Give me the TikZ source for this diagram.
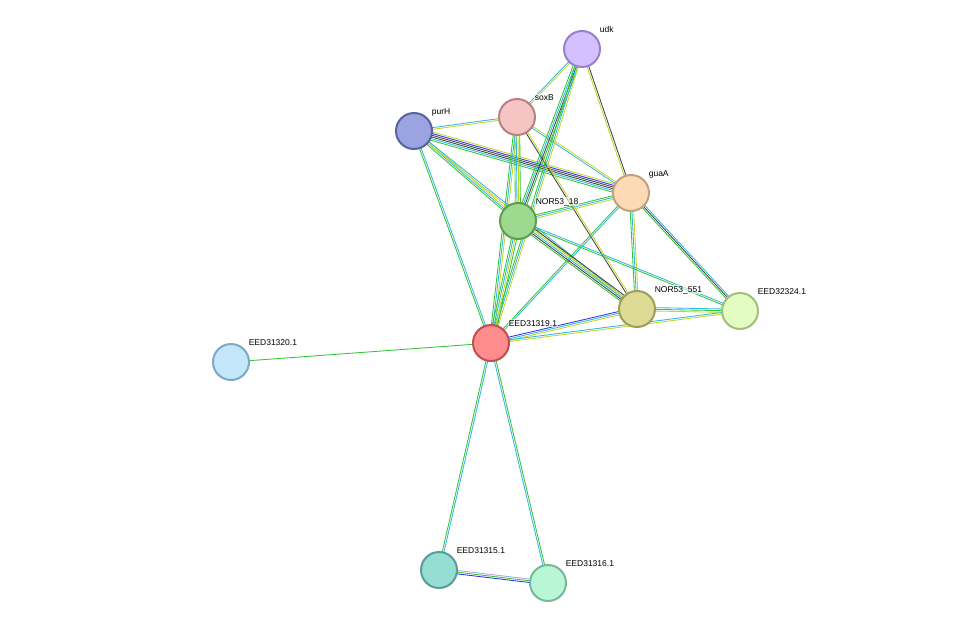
\documentclass[tikz,border=0pt]{standalone}
\usepackage{fontspec}
\setmainfont{Liberation Sans}
\usetikzlibrary{calc}
\definecolor{cG}{HTML}{33C633}
\definecolor{cC}{HTML}{2EB8E2}
\definecolor{cY}{HTML}{C2D62A}
\definecolor{cK}{HTML}{444444}
\definecolor{cB}{HTML}{3030F5}
\definecolor{cL}{HTML}{B6A0E6}
\newcommand\medge[4]{%
  \foreach \cc [count=\ii] in {#4}{%
    \pgfmathsetmacro\oo{(\ii-(#3+1)/2)*1.7}%
    \draw[edge,\cc] ($(#1.center)!\oo pt!90:(#2.center)$) -- ($(#2.center)!\oo pt!-90:(#1.center)$);
  }}
\begin{document}
\begin{tikzpicture}[x=1pt,y=-1pt,
  edge/.style={line width=0.85pt},
  prot/.style={circle,minimum size=36pt,inner sep=0pt,line width=2pt},
  lab/.style={font=\fontsize{8.5}{9}\selectfont,anchor=base west,fill=white,fill opacity=0.6,text opacity=1,inner sep=0.6pt}]
\useasboundingbox (0,0) rectangle (975,629);
\coordinate (udk) at (582,49);
\coordinate (soxB) at (517,117);
\coordinate (purH) at (414,131);
\coordinate (guaA) at (631,193);
\coordinate (n18) at (518,221);
\coordinate (n551) at (637,309);
\coordinate (e24) at (740,311);
\coordinate (e19) at (491,343);
\coordinate (e20) at (231,362);
\coordinate (e15) at (439,570);
\coordinate (e16) at (548,583);
\medge{purH}{soxB}{2}{cY,cC}
\medge{purH}{guaA}{6}{cG,cC,cK,cK,cB,cY}
\medge{purH}{n18}{3}{cG,cC,cY}
\medge{purH}{e19}{2}{cG,cC}
\medge{purH}{n551}{2}{cY,cC}
\medge{soxB}{guaA}{2}{cC,cY}
\medge{soxB}{n18}{4}{cG,cC,cY,cG}
\medge{soxB}{n551}{2}{cK,cY}
\medge{soxB}{e19}{3}{cG,cC,cY}
\medge{soxB}{udk}{2}{cY,cC}
\medge{udk}{n18}{4}{cG,cC,cK,cG}
\medge{udk}{e19}{3}{cG,cC,cY}
\medge{udk}{guaA}{2}{cY,cK}
\medge{guaA}{n18}{3}{cG,cC,cY}
\medge{guaA}{n551}{3}{cG,cC,cY}
\medge{guaA}{e24}{3}{cG,cK,cC}
\medge{guaA}{e19}{2}{cG,cC}
\medge{n18}{n551}{5}{cG,cK,cC,cY,cK}
\medge{n18}{e24}{2}{cG,cC}
\medge{n18}{e19}{4}{cG,cC,cY,cG}
\medge{n551}{e24}{3}{cY,cG,cC}
\medge{n551}{e19}{3}{cB,cC,cY}
\medge{e24}{e19}{2}{cC,cY}
\medge{e19}{e20}{1}{cG}
\medge{e19}{e15}{2}{cG,cC}
\medge{e19}{e16}{2}{cC,cG}
\medge{e15}{e16}{3}{cB,cG,cL}
\foreach \n/\f/\d/\t in {udk/D4BFFF/9A80CC/udk, soxB/F7C4C4/B88282/soxB, purH/9BA3E0/5A62A0/purH, guaA/FDDAB6/C4A07E/guaA, n18/9DD98F/5E9E52/NOR53\_18, n551/DEDB97/A09E58/NOR53\_551, e24/E2FCC1/A2BE7C/EED32324.1, e19/FF8C8C/C05050/EED31319.1, e20/C3E6FB/7EA8C4/EED31320.1, e15/96DDD3/5A9E96/EED31315.1, e16/B9F6D6/78B898/EED31316.1}{
  \definecolor{fc}{HTML}{\f}\definecolor{dc}{HTML}{\d}
  \node[prot,fill=fc,draw=dc] (N\n) at (\n) {};
  \node[lab] (L\n) at ($(\n)+(17,-17)$) {\t};
}
\end{tikzpicture}
\end{document}
